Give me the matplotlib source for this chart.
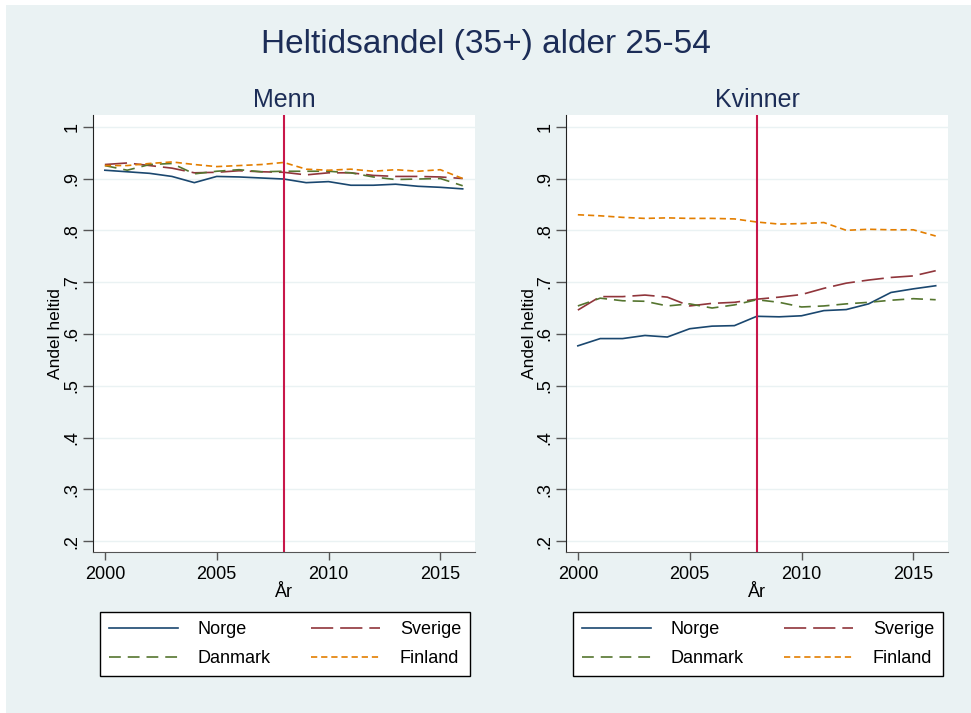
import matplotlib
matplotlib.use("Agg")
import matplotlib.pyplot as plt
from matplotlib.patches import Rectangle

# data
years = list(range(2000, 2017))
countries = ["Norge", "Sverige", "Danmark", "Finland"]

norge_m = [0.916, 0.913, 0.910, 0.904, 0.892, 0.904, 0.903, 0.901, 0.899, 0.892, 0.894, 0.887, 0.887, 0.889, 0.885, 0.883, 0.880]
sverige_m = [0.927, 0.930, 0.925, 0.920, 0.911, 0.912, 0.915, 0.913, 0.912, 0.907, 0.911, 0.911, 0.906, 0.904, 0.904, 0.903, 0.900]
danmark_m = [0.925, 0.916, 0.927, 0.929, 0.909, 0.914, 0.917, 0.913, 0.914, 0.914, 0.914, 0.911, 0.903, 0.898, 0.899, 0.900, 0.886]
finland_m = [0.925, 0.925, 0.929, 0.932, 0.927, 0.923, 0.925, 0.927, 0.931, 0.918, 0.916, 0.918, 0.914, 0.917, 0.914, 0.917, 0.900]

norge_k = [0.577, 0.591, 0.591, 0.597, 0.594, 0.610, 0.615, 0.616, 0.634, 0.633, 0.635, 0.645, 0.647, 0.658, 0.680, 0.687, 0.693]
sverige_k = [0.646, 0.672, 0.672, 0.675, 0.671, 0.654, 0.659, 0.661, 0.667, 0.671, 0.676, 0.688, 0.698, 0.704, 0.709, 0.712, 0.722]
danmark_k = [0.654, 0.669, 0.664, 0.663, 0.654, 0.658, 0.650, 0.656, 0.666, 0.661, 0.652, 0.654, 0.658, 0.661, 0.665, 0.668, 0.666]
finland_k = [0.830, 0.828, 0.825, 0.823, 0.824, 0.823, 0.823, 0.822, 0.816, 0.812, 0.813, 0.815, 0.800, 0.802, 0.801, 0.801, 0.789]

yticks = [0.2, 0.3, 0.4, 0.5, 0.6, 0.7, 0.8, 0.9, 1.0]
ytick_labels = [".2", ".3", ".4", ".5", ".6", ".7", ".8", ".9", "1"]
xticks = [2000, 2005, 2010, 2015]
crisis_year = 2008

# ---- style ----
plt.rcParams["font.family"] = ["Liberation Sans", "DejaVu Sans"]
plt.rcParams["lines.scale_dashes"] = False

bg = "#EAF2F3"
title_col = "#1C2D57"
colors = ["#1A476F", "#90353B", "#55752F", "#E37E00"]
dashes = [None, (16, 5), (8.5, 5), (4.5, 2.8)]

fig = plt.figure(figsize=(9.71, 7.13), dpi=100, facecolor="white")
fig.patches.append(Rectangle((6 / 971, 0), 1 - 6 / 971, 1 - 5 / 713,
                             transform=fig.transFigure, facecolor=bg,
                             edgecolor="none", zorder=-10))

panels = [
    ("Menn", [norge_m, sverige_m, danmark_m, finland_m], 93),
    ("Kvinner", [norge_k, sverige_k, danmark_k, finland_k], 566),
]

for name, series, left_px in panels:
    ax = fig.add_axes([left_px / 971, 1 - 552 / 713, 382 / 971, 437 / 713])
    ax.set_facecolor("white")
    for y in yticks:
        ax.axhline(y, color=bg, linewidth=1.0, zorder=0)

    lines = []
    for label, vals, col, ds in zip(countries, series, colors, dashes):
        line, = ax.plot(years, vals, color=col, linewidth=1.2, label=label)
        if ds is not None:
            line.set_dashes(ds)
        lines.append(line)

    ax.axvline(crisis_year, color="#C8174A", linewidth=1.5)

    ax.set_xlim(1999.47, 2016.55)
    ax.set_ylim(0.179, 1.0226)
    ax.set_xticks(xticks)
    ax.set_xticklabels([str(x) for x in xticks], fontsize=13)
    ax.set_yticks(yticks)
    ax.set_yticklabels(ytick_labels, fontsize=13, rotation=90, va="center")
    ax.tick_params(axis="x", length=6, width=1, color="#555555", pad=4)
    ax.tick_params(axis="y", length=7, width=1, color="#555555", pad=2)

    ax.spines["top"].set_visible(False)
    ax.spines["right"].set_visible(False)
    ax.spines["left"].set_color("#222222")
    ax.spines["bottom"].set_color("#555555")

    ax.set_xlabel("År", fontsize=13, labelpad=1)
    ax.set_ylabel("Andel heltid", fontsize=12.5, labelpad=0)

    cx = (left_px + 191) / 971
    fig.text(cx, 1 - 107 / 713, name, ha="center", va="baseline",
             fontsize=18, color=title_col)

    # row order: Norge, Sverige / Danmark, Finland
    order = [0, 2, 1, 3]
    leg = ax.legend([lines[i] for i in order], [countries[i] for i in order],
                    ncol=2, mode="expand", fontsize=13,
                    bbox_to_anchor=((left_px + 7) / 971, 1 - 675 / 713, 370 / 971, 62 / 713),
                    bbox_transform=fig.transFigure, loc="center",
                    borderaxespad=0, handlelength=3.8, handletextpad=1.1,
                    labelspacing=0.65, borderpad=0.5, fancybox=False,
                    framealpha=1, edgecolor="black")
    leg.get_frame().set_linewidth(1.0)

fig.text(0.5, 1 - 53 / 713, "Heltidsandel (35+) alder 25-54", ha="center",
         va="baseline", fontsize=24, color=title_col)

fig.savefig("out.png", dpi=100, facecolor=fig.get_facecolor())
